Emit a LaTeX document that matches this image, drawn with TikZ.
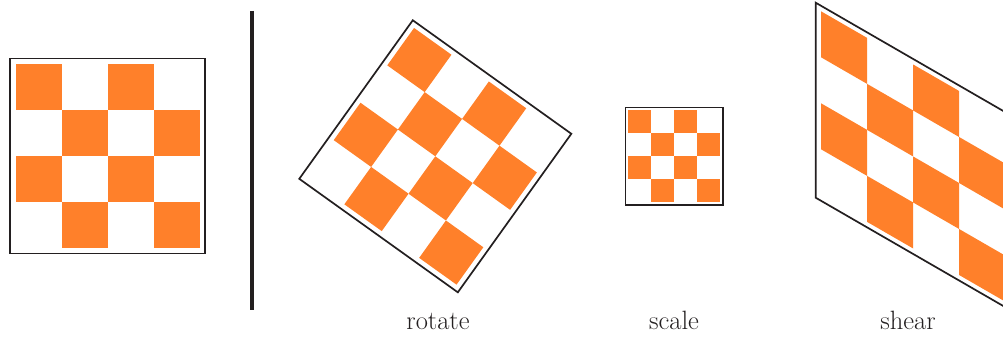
\documentclass[tikz,border=0pt]{standalone}
\definecolor{chk}{RGB}{255,128,42}
\definecolor{ink}{RGB}{35,31,32}
\tikzset{
  frame/.style={draw=ink, line width=1.7pt},
  cell/.style={fill=chk},
  lbl/.style={anchor=base, inner sep=0pt, text=ink, font=\fontsize{26.5}{31}\selectfont}
}
\newcommand{\myboard}{%
  \foreach \r in {0,...,3}{
    \foreach \c in {0,...,3}{
      \pgfmathtruncatemacro{\myparity}{mod(\r+\c,2)}
      \ifnum\myparity=0
        \fill[cell] (-92+46*\c,-92+46*\r) rectangle ++(46,46);
      \fi
    }
  }
  \draw[frame] (-97.5,-97.5) rectangle (97.5,97.5);
}
\begin{document}
\begin{tikzpicture}[x=1pt,y=-1pt]
\useasboundingbox (0,0) rectangle (1003,337);
% original
\begin{scope}[shift={(107.5,156)}]
  \myboard
\end{scope}
% divider
\draw[ink, line width=4pt] (252,11) -- (252,310);
% rotate
\begin{scope}[shift={(435.3,156.3)}, rotate=-35.6]
  \myboard
\end{scope}
% scale
\begin{scope}[shift={(674.2,156.3)}, scale=0.5]
  \myboard
\end{scope}
% shear
\begin{scope}[shift={(913.2,156.5)}, cm={1,-0.57735,0,1,(0,0)}]
  \myboard
\end{scope}
\node[lbl] (rot) at (438,329) {rotate};
\node[lbl] (scl) at (674,329) {scale};
\node[lbl] (shr) at (908,329) {shear};
\end{tikzpicture}
\end{document}
